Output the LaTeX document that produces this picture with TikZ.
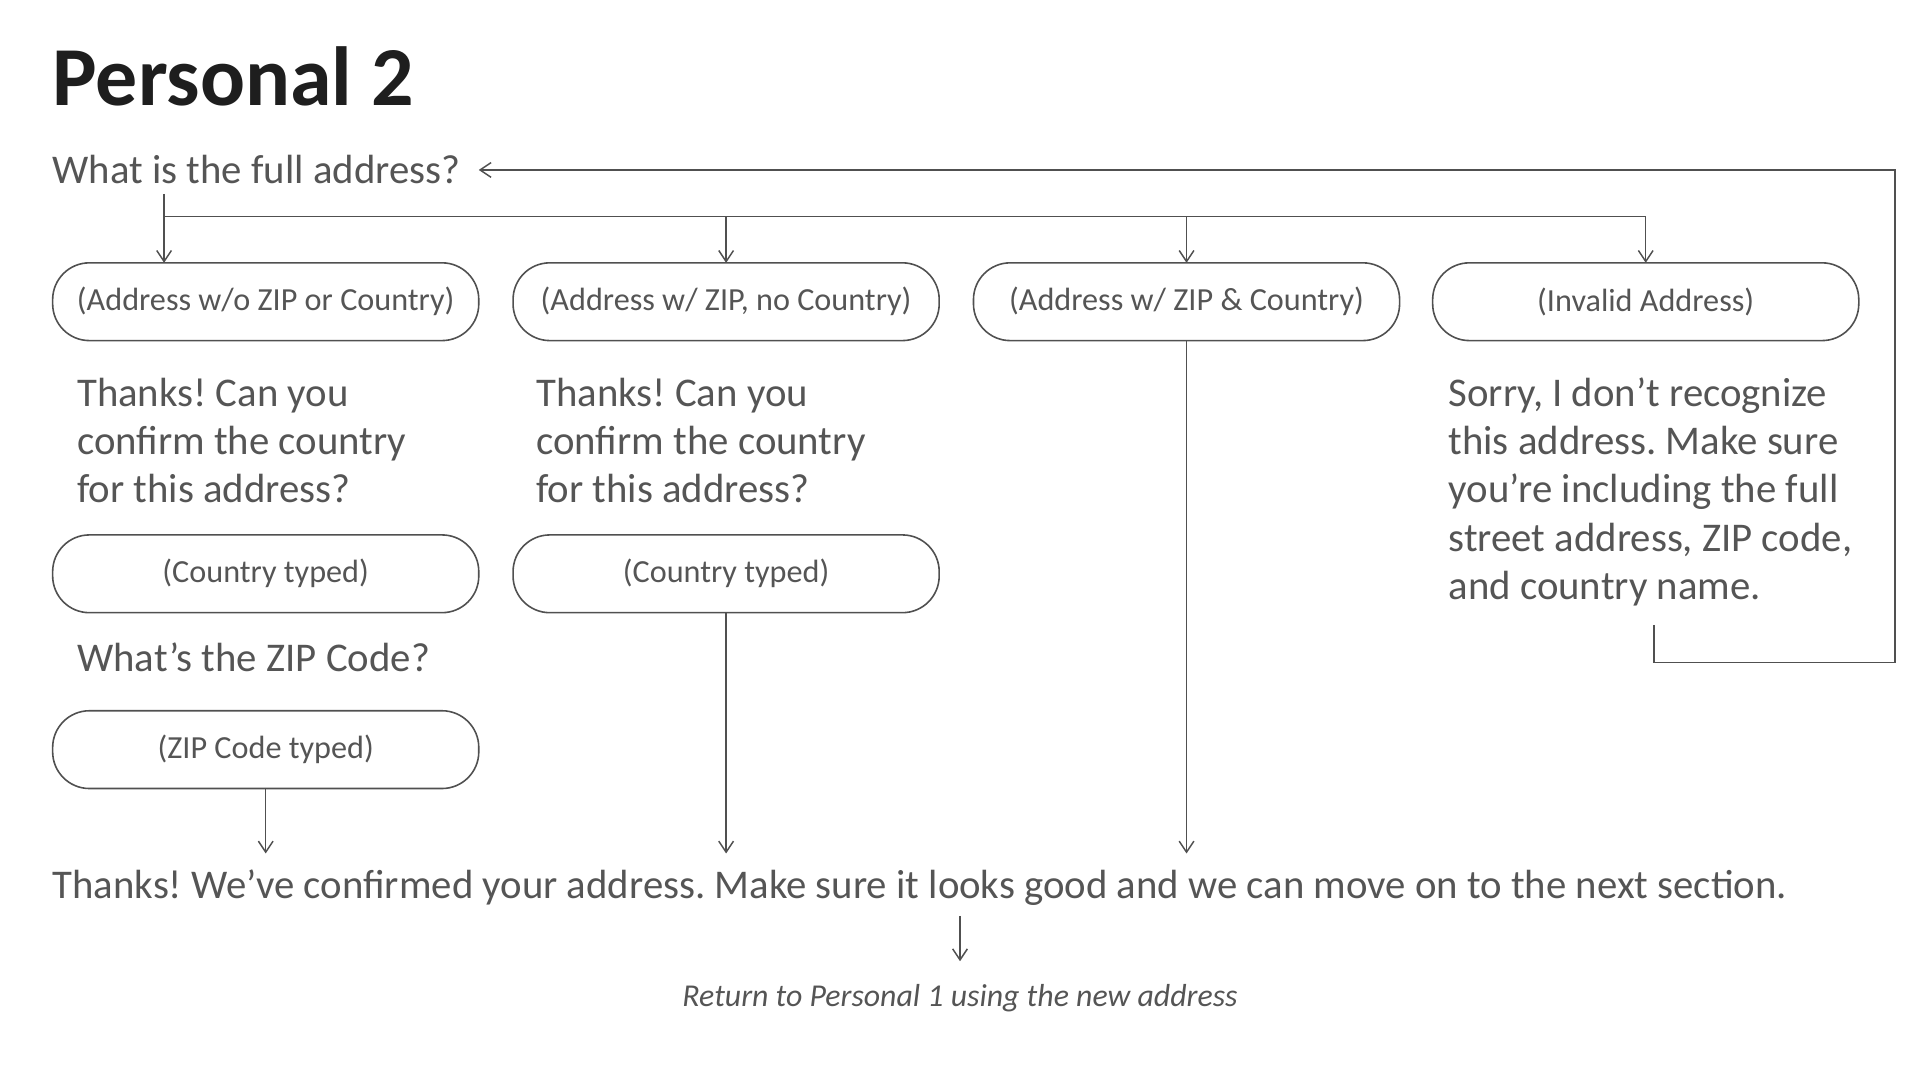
\documentclass[tikz,border=0pt]{standalone}
\usepackage{fontspec}
\setmainfont{Carlito}
\usetikzlibrary{arrows.meta}
\definecolor{txt}{HTML}{555555}
\definecolor{ttl}{HTML}{1E1E1E}
\definecolor{ln}{HTML}{505050}
\frenchspacing
\begin{document}
\begin{tikzpicture}[x=1pt,y=-1pt,
  every node/.style={inner sep=0pt, outer sep=0pt, text=txt},
  pill/.style={draw=ln, line width=1.3pt, rounded corners=30pt, minimum width=348pt, minimum height=63.5pt, font=\fontsize{26.3}{30}\selectfont},
  big/.style={font=\fontsize{33.3}{39.35}\selectfont, align=left},
  conn/.style={draw=ln, line width=1.2pt},
  arr/.style={conn, -{Straight Barb[length=9pt,width=12pt,line width=1.2pt]}}]
\useasboundingbox (0,0) rectangle (1568,882);

\node[anchor=base west, font=\bfseries\fontsize{68.5}{72}\selectfont, text=ttl] (title) at (43,86) {Personal 2};
\node[big, anchor=base west] (q) at (43,149.7) {What is the full address?};

\node[pill] (b1) at (217,246.4) {(Address w/o ZIP or Country)};
\node[pill] (b2) at (593,246.4) {(Address w/ ZIP, no Country)};
\node[pill] (b3) at (969,246.4) {(Address w/ ZIP \& Country)};
\node[pill] (b4) at (1344,246.4) {(Invalid Address)};

% multi-line nodes: base anchor = baseline of the last line
\node[big, anchor=base west] (t1) at (63,410.7) {Thanks! Can you\\confirm the country\\for this address?};
\node[big, anchor=base west] (t2) at (438,410.7) {Thanks! Can you\\confirm the country\\for this address?};
\node[big, anchor=base west] (sorry) at (1183,489.4) {Sorry, I don’t recognize\\this address. Make sure\\you’re including the full\\street address, ZIP code,\\and country name.};

\node[pill] (c1) at (217,468.6) {(Country typed)};
\node[pill] (c2) at (593,468.6) {(Country typed)};
\node[big, anchor=base west] (zq) at (63,548.5) {What’s the ZIP Code?};
\node[pill] (z1) at (217,612.2) {(ZIP Code typed)};

\node[big, anchor=base west] (done) at (43,733.4) {Thanks! We’ve confirmed your address. Make sure it looks good and we can move on to the next section.};
\node[anchor=base, font=\itshape\fontsize{26}{30}\selectfont] (ret) at (784,822) {Return to Personal 1 using the new address};

% branching from the question
\coordinate (split) at (134,158.4);
\coordinate (bus) at (134,176.9);
\draw[arr] (split) -- (b1.north -| split);
\draw[conn] (bus) -- (bus -| b4.north);
\draw[arr] (bus -| b2.north) -- (b2.north);
\draw[arr] (bus -| b3.north) -- (b3.north);
\draw[arr] (bus -| b4.north) -- (b4.north);

% down to the confirmation
\coordinate (land) at (0,697);
\draw[arr] (z1.south) -- (z1.south |- land);
\draw[arr] (c2.south) -- (c2.south |- land);
\draw[arr] (b3.south) -- (b3.south |- land);

% final arrow
\coordinate (fa) at (784,748);
\draw[arr] (fa) -- (784,785) coordinate (fb);

% loop back from invalid
\coordinate (ls) at (1350.7,510.4);
\coordinate (lc) at (1547.5,541);
\coordinate (lt) at (391,138.8);
\draw[arr] (ls) |- (lc) |- (lt);
\end{tikzpicture}
\end{document}
